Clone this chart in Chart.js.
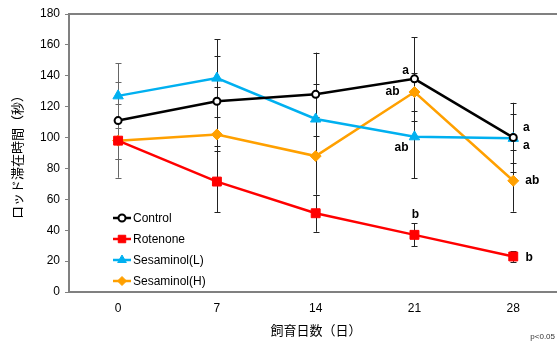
<!DOCTYPE html>
<html>
<head>
<meta charset="utf-8">
<script src="https://cdn.jsdelivr.net/npm/chart.js@4.4.0/dist/chart.umd.min.js"></script>
<style>
html,body{margin:0;padding:0;background:#fff;}
#wrap{width:557px;height:344px;}
</style>
</head>
<body>
<div id="wrap"><canvas id="c" width="557" height="344"></canvas></div>
<script>
const days = [0, 7, 14, 21, 28];
const seriesNames = ["Control", "Rotenone", "Sesaminol(L)", "Sesaminol(H)"];

const control = [111, 123.5, 128, 138, 100];
const rotenone = [98, 71.5, 51, 37, 23];
const sesL = [127, 138.5, 112, 100.5, 99.5];
const sesH = [98, 102, 88, 129.5, 72];

const controlErr = [25, 29, 27, 27, 22.5];
const rotenoneErr = [24, 20, 12, 7.5, 3.5];
const sesLErr = [21, 25, 23, 27, 16];
const sesHErr = [12, 31, 25, 12, 20];

const yTicks = [0, 20, 40, 60, 80, 100, 120, 140, 160, 180];

// significance letters: [series index, day index, text]
const letters = [
[0, 3, "a"], [3, 3, "ab"], [2, 3, "ab"], [1, 3, "b"],
[0, 4, "a"], [2, 4, "a"], [3, 4, "ab"], [1, 4, "b"]
];

const yTitle = "ロッド滞在時間（秒）";
const xTitle = "飼育日数（日）";
const note = "p<0.05";

const errs = [controlErr, rotenoneErr, sesLErr, sesHErr];
const colors = ["#000000", "#ff0000", "#00b0f0", "#ffa000"];
const styles = ["circle", "rect", "triangle", "rectRot"];
const radii = [3.5, 6.3, 6, 5.5];
const fills = ["#ffffff", "#ff0000", "#00b0f0", "#ffa000"];

const letterOffsets = {
"0,3": [-9, -8], "3,3": [-22, 0], "2,3": [-13, 11], "1,3": [1, -20],
"0,4": [13, -10], "2,4": [13, 7], "3,4": [19, 0], "1,4": [16, 1]
};

function pts(arr){
return arr.map((v,i)=>({x:days[i], y:v}));
}

const errorBars = {
id:"errorBars",
beforeDatasetsDraw(chart){
const ctx = chart.ctx;
const xs = chart.scales.x, ys = chart.scales.y;
ctx.save();
ctx.lineWidth = 1;
chart.data.datasets.forEach((ds,si)=>{
ds.data.forEach((p,i)=>{
ctx.strokeStyle = i === 0 ? "#666" : "#222";
const x = Math.round(xs.getPixelForValue(p.x)) + 0.5;
const top = ys.getPixelForValue(p.y + errs[si][i]);
const bot = ys.getPixelForValue(p.y - errs[si][i]);
ctx.beginPath();
ctx.moveTo(x, top); ctx.lineTo(x, bot);
ctx.moveTo(x-3, Math.round(top)+0.5); ctx.lineTo(x+3, Math.round(top)+0.5);
ctx.moveTo(x-3, Math.round(bot)+0.5); ctx.lineTo(x+3, Math.round(bot)+0.5);
ctx.stroke();
});
});
ctx.restore();
}
};

const extras = {
id:"extras",
afterDraw(chart){
const ctx = chart.ctx;
const a = chart.chartArea;
const xs = chart.scales.x, ys = chart.scales.y;
ctx.save();

// top frame line
ctx.strokeStyle = "#808080";
ctx.lineWidth = 2;
ctx.beginPath();
ctx.moveTo(a.left, a.top); ctx.lineTo(a.right, a.top);
ctx.stroke();

// legend inside plot
const lx = a.left + 44, ly = a.bottom - 74;
ctx.font = "12px 'Liberation Sans', Arial, sans-serif";
ctx.textBaseline = "middle";
ctx.textAlign = "left";
seriesNames.forEach((name,i)=>{
const y = ly + i*21;
ctx.strokeStyle = colors[i];
ctx.lineWidth = 2.5;
ctx.beginPath();
ctx.moveTo(lx, y); ctx.lineTo(lx+18, y);
ctx.stroke();
ctx.fillStyle = fills[i];
ctx.strokeStyle = colors[i];
ctx.lineWidth = i === 0 ? 2 : 1;
Chart.helpers.drawPoint(ctx, {pointStyle:styles[i], radius:i===0?3.5:radii[i]-1, rotation:0, borderWidth:ctx.lineWidth}, lx+9, y);
ctx.fillStyle = "#000";
ctx.fillText(name, lx+20, y+1);
});

// significance letters
ctx.font = "bold 12px 'Liberation Sans', Arial, sans-serif";
ctx.textAlign = "center";
ctx.fillStyle = "#000";
letters.forEach(([si,di,t])=>{
const p = chart.data.datasets[si].data[di];
const off = letterOffsets[si+","+di];
ctx.fillText(t, xs.getPixelForValue(p.x)+off[0], ys.getPixelForValue(p.y)+off[1]);
});

// axis titles
ctx.font = "13px 'Noto Sans CJK JP', sans-serif";
ctx.fillText(xTitle, 316, 330);
ctx.save();
ctx.translate(17, (a.top+a.bottom)/2 + 1);
ctx.rotate(-Math.PI/2);
ctx.fillText(yTitle, 0, 0);
ctx.restore();

ctx.font = "8px 'Liberation Sans', Arial, sans-serif";
ctx.textAlign = "right";
ctx.fillStyle = "#333";
ctx.fillText(note, 555, 337);
ctx.restore();
}
};

new Chart(document.getElementById("c"), {
type:"line",
data:{
datasets:[control, rotenone, sesL, sesH].map((d,i)=>({
label:seriesNames[i],
data:pts(d),
borderColor:colors[i],
backgroundColor:fills[i],
pointBackgroundColor:fills[i],
pointBorderColor:colors[i],
pointBorderWidth:i===0?2:1,
pointStyle:styles[i],
pointRadius:radii[i],
pointHoverRadius:radii[i],
borderWidth:2.5,
tension:0,
fill:false,
clip:false
}))
},
options:{
responsive:false,
animation:false,
events:[],
layout:{autoPadding:false, padding:{top:14, right:0, left:0, bottom:0}},
plugins:{legend:{display:false}, tooltip:{enabled:false}},
scales:{
x:{
type:"linear",
min:-3.48,
max:31.1,
afterBuildTicks(s){ s.ticks = days.map(v=>({value:v})); },
afterFit(s){ s.height = 52; s.paddingLeft = 0; s.paddingRight = 0; },
grid:{display:false, drawTicks:false},
border:{color:"#808080", width:2},
ticks:{padding:9, color:"#000", font:{size:12, family:"'Liberation Sans', Arial, sans-serif"}}
},
y:{
min:0,
max:180,
afterBuildTicks(s){ s.ticks = yTicks.map(v=>({value:v})); },
afterFit(s){ s.width = 69; s.paddingTop = 0; s.paddingBottom = 0; },
grid:{drawOnChartArea:false, drawTicks:true, tickLength:4, color:"#808080"},
border:{color:"#808080", width:2},
ticks:{padding:5, color:"#000", font:{size:12, family:"'Liberation Sans', Arial, sans-serif"}}
}
}
},
plugins:[errorBars, extras]
});
</script>
</body>
</html>
